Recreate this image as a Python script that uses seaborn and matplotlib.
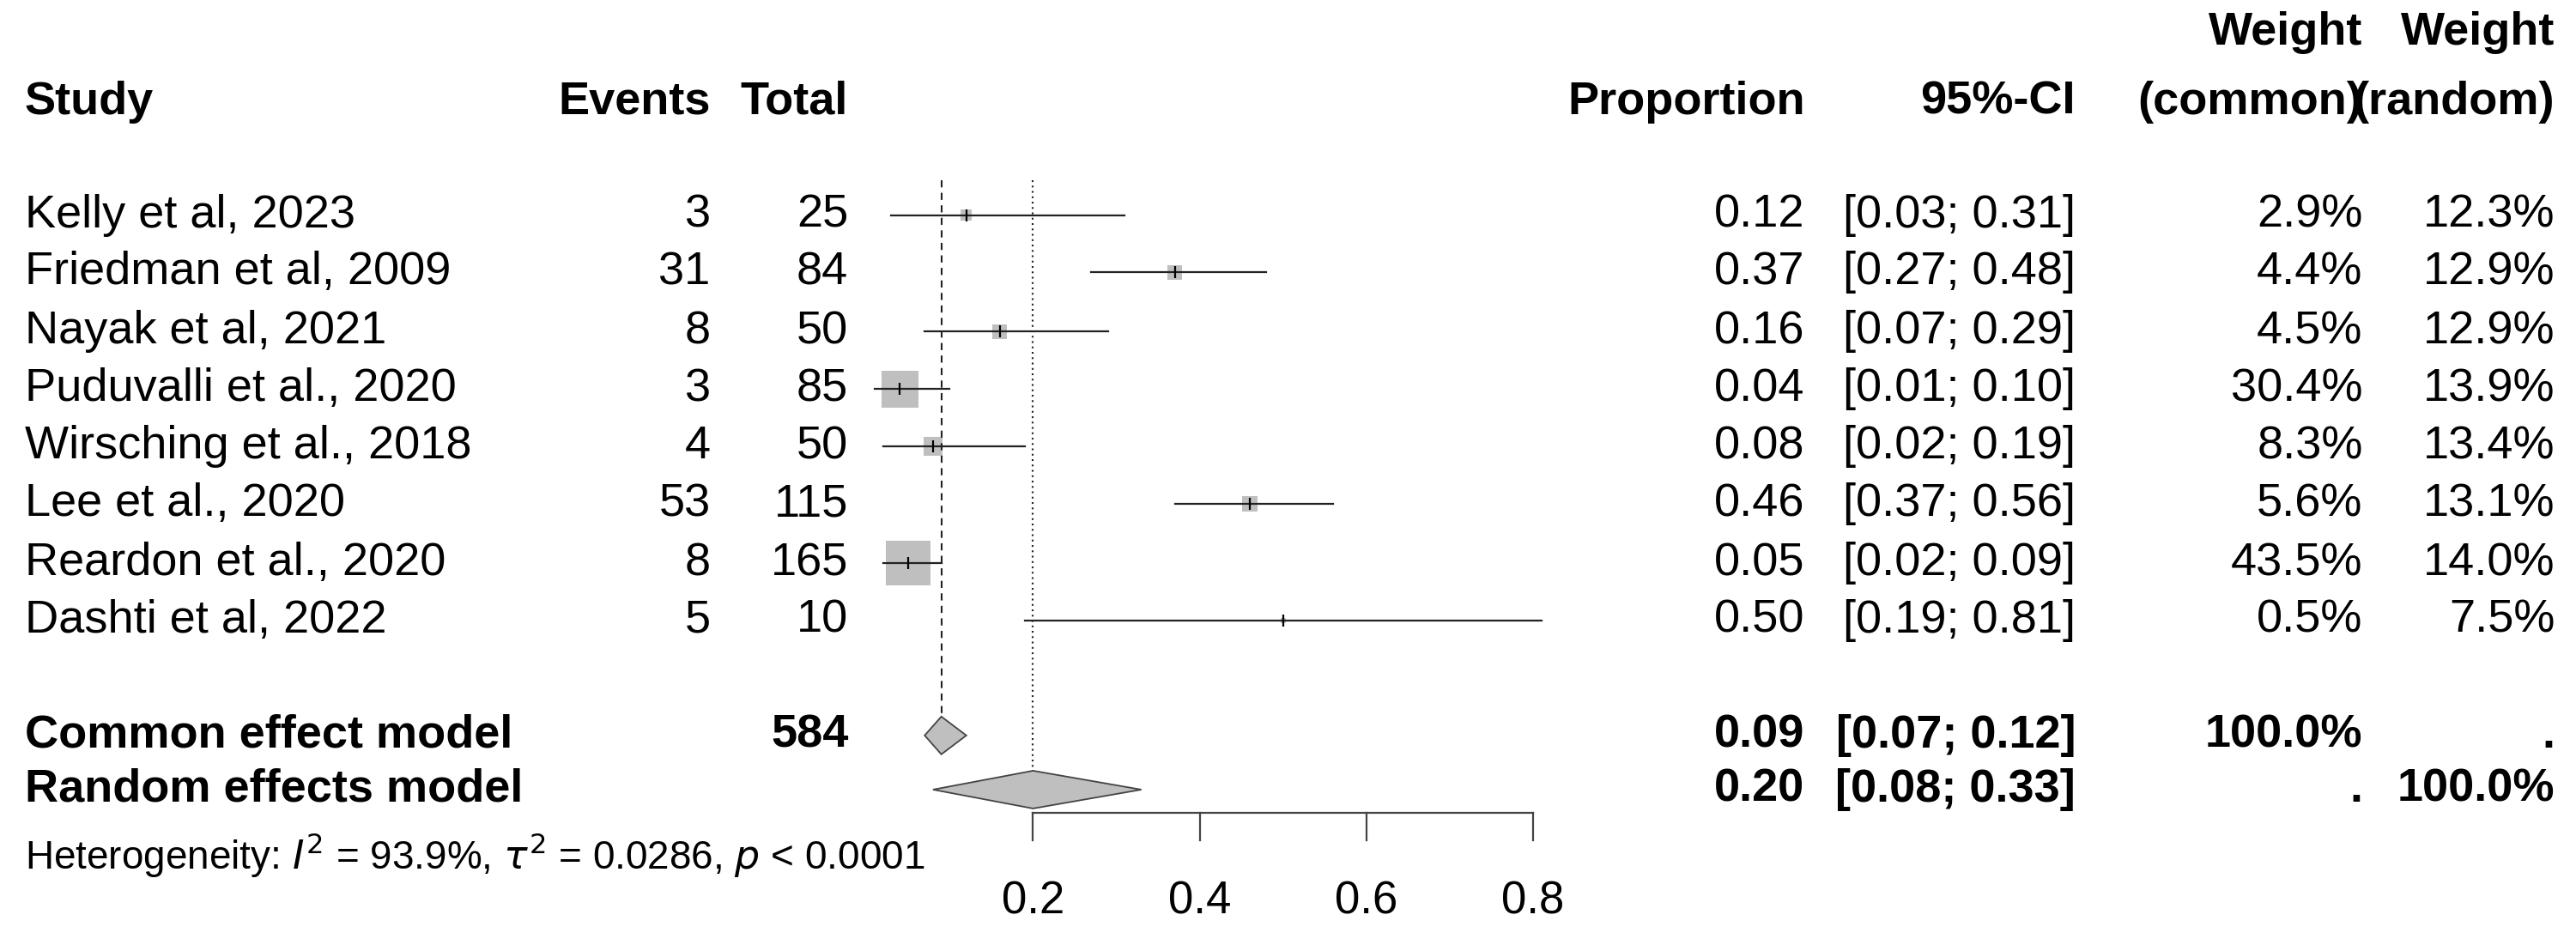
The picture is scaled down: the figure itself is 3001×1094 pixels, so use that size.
import numpy as np
import pandas as pd
import seaborn as sns
import matplotlib.pyplot as plt

studies = ["Kelly et al, 2023", "Friedman et al, 2009", "Nayak et al, 2021",
           "Puduvalli et al., 2020", "Wirsching et al., 2018", "Lee et al., 2020",
           "Reardon et al., 2020", "Dashti et al, 2022"]
events = [3, 31, 8, 3, 4, 53, 8, 5]
totals = [25, 84, 50, 85, 50, 115, 165, 10]
prop = [0.12, 0.37, 0.16, 0.04, 0.08, 0.46, 0.05, 0.50]
lower = [0.03, 0.27, 0.07, 0.01, 0.02, 0.37, 0.02, 0.19]
upper = [0.31, 0.48, 0.29, 0.10, 0.19, 0.56, 0.09, 0.81]
w_common = [2.9, 4.4, 4.5, 30.4, 8.3, 5.6, 43.5, 0.5]
w_random = [12.3, 12.9, 12.9, 13.9, 13.4, 13.1, 14.0, 7.5]
common = (0.09, 0.07, 0.12)
random_ = (0.20, 0.08, 0.33)
ticks = [0.2, 0.4, 0.6, 0.8]

plt.rcParams["font.family"] = "Liberation Sans"
W, H = 1570, 572  # layout units (scaled reference)
fig = plt.figure(figsize=(30.01, 10.94), dpi=100)
tx = fig.add_axes([0, 0, 1, 1])
tx.set_xlim(0, W); tx.set_ylim(H, 0); tx.axis("off")

# forest axes: x in proportion, 0 -> 528, 1 -> 1036 ; y in layout units
x0, x1 = 528, 1036
fx = fig.add_axes([x0 / W, 0, (x1 - x0) / W, 1])
fx.set_xlim(0, 1); fx.set_ylim(H, 0); fx.axis("off")
fx.patch.set_alpha(0)

row_y = [131, 166, 202, 237, 272, 307, 343, 378]
y_com, y_ran = 448, 481
fs = 39

df = pd.DataFrame({"study": studies, "prop": prop, "lo": lower, "hi": upper,
                   "w": w_common, "y": row_y})
for _, r in df.iterrows():
    fx.plot([r.lo, r.hi], [r.y, r.y], color="#222222", lw=1.6, zorder=3)
side = 27 * np.sqrt(df["w"] / 43.5) * 1.376
sns.scatterplot(data=df, x="prop", y="y", marker="s", s=side ** 2, color="#bfbfbf",
                edgecolor="none", ax=fx, legend=False, zorder=2)
sns.scatterplot(data=df, x="prop", y="y", marker="|", s=90, color="black",
                linewidth=1.6, ax=fx, legend=False, zorder=4)

h = 11.5
fx.plot([common[0]] * 2, [110, y_com - h], color="#222222", ls=(0, (4, 3)), lw=1.5)
fx.plot([random_[0]] * 2, [110, y_ran - h], color="#222222", ls=(0, (1, 2)), lw=1.5)
for (m, lo, hi), y in [(common, y_com), (random_, y_ran)]:
    fx.fill([lo, m, hi, m], [y, y - h, y, y + h], facecolor="#bfbfbf",
            edgecolor="#444444", lw=1.3, zorder=3)

fx.plot([ticks[0], ticks[-1]], [495, 495], color="#444444", lw=1.6)
for t in ticks:
    fx.plot([t, t], [495, 512], color="#444444", lw=1.6)
    fx.text(t, 549, f"{t:.1f}", ha="center", va="center", fontsize=38)

# header
bold = dict(fontsize=fs, fontweight="bold", va="center")
tx.text(15, 62, "Study", ha="left", **bold)
tx.text(433, 62, "Events", ha="right", **bold)
tx.text(517, 62, "Total", ha="right", **bold)
tx.text(1100, 62, "Proportion", ha="right", **bold)
tx.text(1265, 62, "95%-CI", ha="right", **bold)
tx.text(1440, 20, "Weight", ha="right", **bold)
tx.text(1440, 62, "(common)", ha="right", **bold)
tx.text(1557, 20, "Weight", ha="right", **bold)
tx.text(1557, 62, "(random)", ha="right", **bold)

norm = dict(fontsize=fs, va="center")
for i, y in enumerate(row_y):
    tx.text(15, y, studies[i], ha="left", **norm)
    tx.text(433, y, str(events[i]), ha="right", **norm)
    tx.text(517, y, str(totals[i]), ha="right", **norm)
    tx.text(1100, y, f"{prop[i]:.2f}", ha="right", **norm)
    tx.text(1265, y, f"[{lower[i]:.2f}; {upper[i]:.2f}]", ha="right", **norm)
    tx.text(1440, y, f"{w_common[i]:.1f}%", ha="right", **norm)
    tx.text(1557, y, f"{w_random[i]:.1f}%", ha="right", **norm)

tx.text(15, y_com, "Common effect model", ha="left", **bold)
tx.text(517, y_com, str(sum(totals)), ha="right", **bold)
tx.text(1100, y_com, f"{common[0]:.2f}", ha="right", **bold)
tx.text(1265, y_com, f"[{common[1]:.2f}; {common[2]:.2f}]", ha="right", **bold)
tx.text(1440, y_com, "100.0%", ha="right", **bold)
tx.text(1557, y_com, ".", ha="right", **bold)
tx.text(15, y_ran, "Random effects model", ha="left", **bold)
tx.text(1100, y_ran, f"{random_[0]:.2f}", ha="right", **bold)
tx.text(1265, y_ran, f"[{random_[1]:.2f}; {random_[2]:.2f}]", ha="right", **bold)
tx.text(1440, y_ran, ".", ha="right", **bold)
tx.text(1557, y_ran, "100.0%", ha="right", **bold)

tx.text(15, 521, r"Heterogeneity: $I^2$ = 93.9%, $\tau^2$ = 0.0286, $p$ < 0.0001",
        ha="left", va="center", fontsize=33)

fig.savefig("out.png", dpi=100)
